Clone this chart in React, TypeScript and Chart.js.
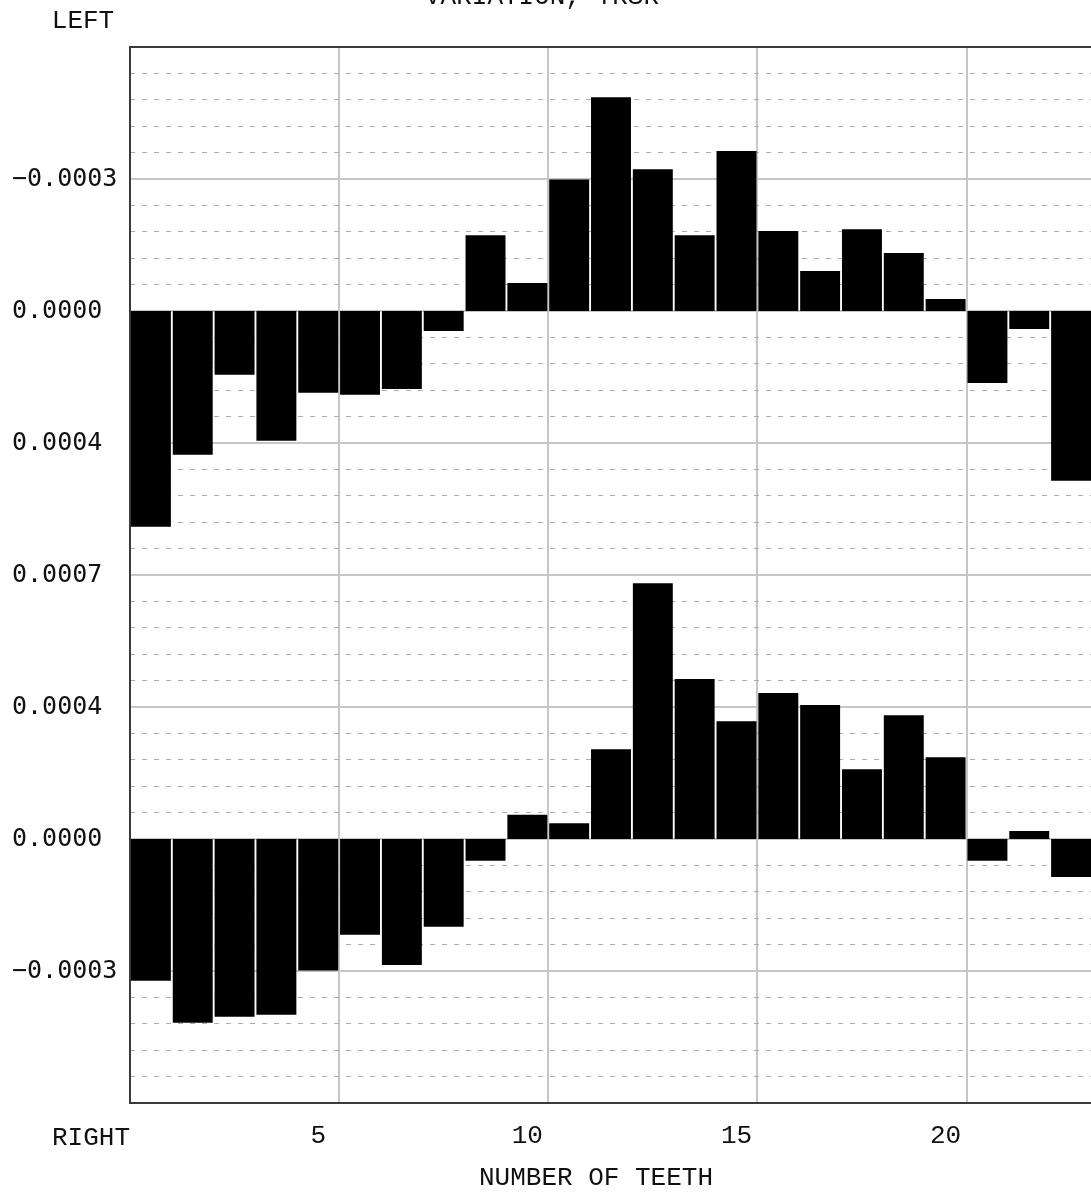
import React, { useEffect, useRef } from 'react';
import { Chart, registerables } from 'chart.js';

Chart.register(...registerables);

// Tooth numbers (categories)
const TEETH = ['1','2','3','4','5','6','7','8','9','10','11','12','13','14','15','16','17','18','19','20','21','22','23'];
const LABELED_TEETH = ['5', '10', '15', '20'];

// Variation values in units of 1e-4
// LEFT (upper panel): positive values plotted downward, negative upward
const LEFT_VARIATION = [5.72, 3.81, 1.69, 3.44, 2.17, 2.22, 2.07, 0.53, -2.01, -0.74, -3.49, -5.67, -3.76, -2.01, -4.24, -2.12, -1.06, -2.17, -1.54, -0.32, 1.91, 0.48, 4.50];
// RIGHT (lower panel): positive values plotted upward
const RIGHT_VARIATION = [-3.76, -4.87, -4.71, -4.66, -3.49, -2.54, -3.34, -2.33, -0.58, 0.64, 0.42, 2.38, 6.78, 4.24, 3.12, 3.87, 3.55, 1.85, 3.28, 2.17, -0.58, 0.21, -1.01];

// Axis is in grid units: 40 minor divisions, a major line every 5
const Y_TICK_POSITIONS = [35, 30, 25, 20, 15, 10, 5];
const Y_TICK_LABELS = ['\u22120.0003', '0.0000', '0.0004', '0.0007', '0.0004', '0.0000', '\u22120.0003'];
const LEFT_ZERO = 30;
const RIGHT_ZERO = 10;
const VALUE_PER_MINOR = 0.7; // 1e-4 per minor division

const TITLE = 'VARIATION, TRSR';
const TOP_LABEL = 'LEFT';
const BOTTOM_LABEL = 'RIGHT';
const X_TITLE = 'NUMBER OF TEETH';

const SERIF_MONO = '"Liberation Mono", "Courier New", monospace';
const SANS_MONO = '"DejaVu Sans Mono", monospace';

export default function App() {
  const canvasRef = useRef<HTMLCanvasElement | null>(null);

  useEffect(() => {
    const canvas = canvasRef.current;
    if (!canvas) return;

    const leftBars = LEFT_VARIATION.map((v) => [LEFT_ZERO, LEFT_ZERO - v / VALUE_PER_MINOR]);
    const rightBars = RIGHT_VARIATION.map((v) => [RIGHT_ZERO, RIGHT_ZERO + v / VALUE_PER_MINOR]);

    const overlay = {
      id: 'overlay',
      afterDraw(chart: any) {
        const { ctx, chartArea: a } = chart;
        ctx.save();
        ctx.strokeStyle = '#3a3a3a';
        ctx.lineWidth = 2;
        ctx.strokeRect(a.left, a.top, a.right - a.left, a.bottom - a.top);
        ctx.fillStyle = '#111';
        ctx.font = `26px ${SERIF_MONO}`;
        ctx.textAlign = 'center';
        ctx.textBaseline = 'alphabetic';
        ctx.fillText(TITLE, 542, 4);
        ctx.fillText(TOP_LABEL, a.left - 47, 28);
        ctx.fillText(BOTTOM_LABEL, a.left - 39, a.bottom + 42);
        ctx.fillText(X_TITLE, 596, a.bottom + 82);
        ctx.restore();
      },
    };

    const chart = new Chart(canvas, {
      type: 'bar',
      data: {
        labels: TEETH,
        datasets: [
          {
            label: TOP_LABEL,
            data: leftBars as any,
            backgroundColor: '#000',
            borderWidth: 0,
            grouped: false,
            barPercentage: 1,
            categoryPercentage: 0.955,
          },
          {
            label: BOTTOM_LABEL,
            data: rightBars as any,
            backgroundColor: '#000',
            borderWidth: 0,
            grouped: false,
            barPercentage: 1,
            categoryPercentage: 0.955,
          },
        ],
      },
      options: {
        responsive: false,
        animation: false,
        events: [],
        layout: { padding: { left: 12, right: 8, top: 47, bottom: 0 } },
        plugins: {
          legend: { display: false },
          tooltip: { enabled: false },
          title: { display: false },
        },
        scales: {
          x: {
            type: 'category',
            offset: true,
            afterFit: (scale: any) => { scale.height = 90; },
            grid: {
              offset: true,
              drawTicks: false,
              lineWidth: 2,
              color: (ctx: any) => (ctx.index !== undefined && ctx.index > 0 && ctx.index % 5 === 0 ? '#c6c6c6' : 'rgba(0,0,0,0)'),
            },
            border: { display: false },
            ticks: {
              autoSkip: false,
              maxRotation: 0,
              padding: 18,
              color: '#111',
              font: { family: SERIF_MONO, size: 26 },
              callback: (_v: any, i: number) => (LABELED_TEETH.includes(TEETH[i]) ? TEETH[i] : ''),
            },
          },
          y: {
            type: 'linear',
            min: 0,
            max: 40,
            afterFit: (scale: any) => { scale.width = 118; },
            grid: {
              drawTicks: false,
              color: (ctx: any) => (ctx.tick && ctx.tick.value % 5 === 0 ? '#c6c6c6' : '#acacac'),
              lineWidth: (ctx: any) => (ctx.tick && ctx.tick.value % 5 === 0 ? 2 : 1),
            },
            border: {
              display: false,
              dash: (ctx: any) => (ctx.tick && ctx.tick.value % 5 === 0 ? [] : [5, 7]),
            } as any,
            ticks: {
              stepSize: 1,
              autoSkip: false,
              crossAlign: 'far',
              padding: 0,
              color: '#111',
              font: { family: SANS_MONO, size: 25 },
              callback: (v: any) => {
                const idx = Y_TICK_POSITIONS.indexOf(Number(v));
                return idx >= 0 ? Y_TICK_LABELS[idx] : '';
              },
            },
          },
        },
      } as any,
      plugins: [overlay],
    });

    return () => chart.destroy();
  }, []);

  return (
    <div style={{ position: 'absolute', left: 0, top: 0, width: 1091, height: 1193, overflow: 'hidden', background: '#fff' }}>
      <canvas ref={canvasRef} width={1100} height={1193} style={{ display: 'block', width: 1100, height: 1193 }} />
    </div>
  );
}
